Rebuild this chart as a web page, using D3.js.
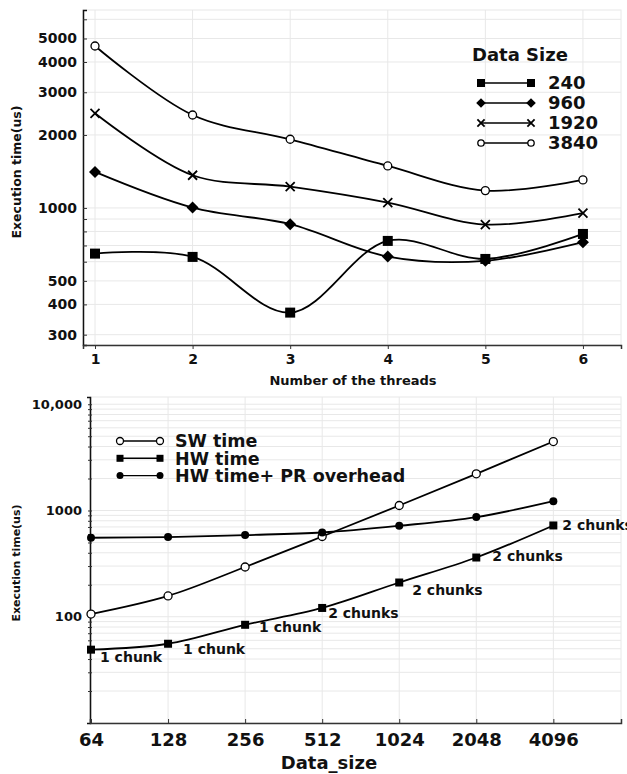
<!DOCTYPE html>
<html><head><meta charset="utf-8">
<script src="https://cdn.jsdelivr.net/npm/d3@7"></script>
<style>
body{margin:0;background:#fff}
svg text{font-family:"DejaVu Sans",Verdana,sans-serif;font-weight:bold;fill:#111}
</style>
</head><body><svg id="c" width="627" height="774"></svg>
<script>
// ---------- Top chart data ----------
const threads = [1, 2, 3, 4, 5, 6];
const sizeSeries = ["240", "960", "1920", "3840"];
const time240 = [648, 628, 370, 731, 616, 781];
const time960 = [1408, 1003, 857, 630, 605, 722];
const time1920 = [2457, 1364, 1224, 1052, 854, 951];
const time3840 = [4656, 2418, 1920, 1490, 1179, 1305];
const topYTicks = [300, 400, 500, 1000, 2000, 3000, 4000, 5000];
const topYMinor = [600, 700, 800, 900, 6000];

// ---------- Bottom chart data ----------
const dataSizes = [64, 128, 256, 512, 1024, 2048, 4096];
const bottomSeries = ["SW time", "HW time", "HW time+ PR overhead"];
const swTime = [106, 157, 294, 569, 1114, 2214, 4457];
const hwTime = [49, 55.7, 84, 121, 210, 361, 723];
const hwPrTime = [554, 562, 587, 621, 718, 867, 1225];
const chunkLabels = ["1 chunk", "1 chunk", "1 chunk", "2 chunks", "2 chunks", "2 chunks", "2 chunks"];
const bottomYTicks = [100, 1000, 10000];

const svg = d3.select("#c");
const GRID = "#e8e8e8";

function drawMarker(g, type, x, y, s) {
  if (type === "square") {
    g.append("rect").attr("x", x - s / 2).attr("y", y - s / 2).attr("width", s).attr("height", s).attr("fill", "#000");
  } else if (type === "diamond") {
    g.append("path").attr("d", `M${x},${y - s * 0.6}L${x + s * 0.6},${y}L${x},${y + s * 0.6}L${x - s * 0.6},${y}Z`).attr("fill", "#000");
  } else if (type === "cross") {
    const h = s / 2;
    g.append("path").attr("d", `M${x - h},${y - h}L${x + h},${y + h}M${x - h},${y + h}L${x + h},${y - h}`)
      .attr("stroke", "#000").attr("stroke-width", 1.8).attr("fill", "none");
  } else if (type === "circle") {
    g.append("circle").attr("cx", x).attr("cy", y).attr("r", s / 2).attr("fill", "#fff").attr("stroke", "#000").attr("stroke-width", 1.3);
  } else if (type === "dot") {
    g.append("circle").attr("cx", x).attr("cy", y).attr("r", s / 2).attr("fill", "#000");
  }
}

// ================= TOP CHART =================
(function () {
  const L = 83, R = 621, T = 10, B = 345;
  const x = d3.scaleLinear().domain([0.877, 6.39]).range([L, R]);
  const y = d3.scaleLog().domain([272, 6554]).range([B, T]);
  const g = svg.append("g");

  g.append("rect").attr("x", L).attr("y", T).attr("width", R - L).attr("height", B - T).attr("fill", "none").attr("stroke", GRID);
  g.selectAll(".hg").data(topYTicks.concat(topYMinor)).enter().append("line")
    .attr("x1", L).attr("x2", R).attr("y1", d => y(d)).attr("y2", d => y(d)).attr("stroke", GRID);
  g.selectAll(".vg").data(threads).enter().append("line")
    .attr("x1", d => x(d)).attr("x2", d => x(d)).attr("y1", T).attr("y2", B).attr("stroke", GRID);

  const ya = g.append("g").attr("transform", `translate(${L},0)`)
    .call(d3.axisLeft(y).tickValues(topYTicks.concat(topYMinor)).tickSize(-4).tickPadding(6)
      .tickFormat(d => topYTicks.includes(d) ? d3.format("d")(d) : ""));
  ya.select(".domain").attr("stroke", "#111").attr("stroke-width", 1.5);
  ya.selectAll(".tick line").attr("stroke", "#333");
  ya.selectAll("text").style("font-size", "14px").attr("fill", "#111");

  const xa = g.append("g").attr("transform", `translate(0,${B})`)
    .call(d3.axisBottom(x).tickValues(threads).tickSize(4).tickPadding(5).tickFormat(d3.format("d")));
  xa.select(".domain").attr("stroke", "#333").attr("stroke-width", 1.5);
  xa.selectAll(".tick line").attr("stroke", "#333");
  xa.selectAll("text").style("font-size", "14px").attr("fill", "#111");

  g.append("text").attr("x", 353).attr("y", 385).attr("text-anchor", "middle").style("font-size", "13px").text("Number of the threads");
  g.append("text").attr("transform", "translate(21,172) rotate(-90)").attr("text-anchor", "middle").style("font-size", "12.5px").text("Execution time(us)");

  const series = [time240, time960, time1920, time3840];
  const markers = ["square", "diamond", "cross", "circle"];
  const msize = [10, 10, 9, 8];
  const line = d3.line().x((d, i) => x(threads[i])).y(d => y(d)).curve(d3.curveCatmullRom);
  series.forEach(s => {
    g.append("path").attr("d", line(s)).attr("fill", "none").attr("stroke", "#000").attr("stroke-width", 1.8);
  });
  series.forEach((s, k) => {
    s.forEach((v, i) => drawMarker(g, markers[k], x(threads[i]), y(v), msize[k]));
  });

  g.append("text").attr("x", 472).attr("y", 61).style("font-size", "18px").text("Data Size");
  sizeSeries.forEach((name, k) => {
    const ly = 83 + k * 20;
    g.append("line").attr("x1", 481).attr("x2", 531).attr("y1", ly).attr("y2", ly).attr("stroke", "#000").attr("stroke-width", 1.4);
    drawMarker(g, markers[k], 481, ly, msize[k] * 0.8);
    drawMarker(g, markers[k], 531, ly, msize[k] * 0.8);
    g.append("text").attr("x", 548).attr("y", ly).attr("dy", "0.36em").style("font-size", "18px").text(name);
  });
})();

// ================= BOTTOM CHART =================
(function () {
  const L = 90, R = 621, T = 397, B = 723;
  const x = d3.scaleLog().base(2).domain([64 * Math.pow(2, -0.013), 4096 * Math.pow(2, 0.878)]).range([L, R]);
  const y = d3.scaleLog().domain([10, 11700]).range([B, T]);
  const g = svg.append("g");

  const allY = [];
  [10, 100, 1000].forEach(dec => { for (let m = 1; m <= 9; m++) allY.push(dec * m); });
  allY.push(10000);
  const gridY = allY.filter(v => v > 10);

  g.append("rect").attr("x", L).attr("y", T).attr("width", R - L).attr("height", B - T).attr("fill", "none").attr("stroke", GRID);
  g.selectAll(".hg").data(gridY).enter().append("line")
    .attr("x1", L).attr("x2", R).attr("y1", d => y(d)).attr("y2", d => y(d)).attr("stroke", GRID);
  g.selectAll(".vg").data(dataSizes).enter().append("line")
    .attr("x1", d => x(d)).attr("x2", d => x(d)).attr("y1", T).attr("y2", B).attr("stroke", GRID);

  const ya = g.append("g").attr("transform", `translate(${L},0)`)
    .call(d3.axisLeft(y).tickValues(gridY).tickSize(3).tickPadding(5)
      .tickFormat(d => d === 10000 ? "10,000" : (bottomYTicks.includes(d) ? String(d) : "")));
  ya.select(".domain").attr("stroke", "#111").attr("stroke-width", 1.5);
  ya.selectAll(".tick line").attr("stroke", "#333").attr("x2", -2).attr("x1", 2);
  ya.selectAll("text").style("font-size", "13px").attr("fill", "#111");

  const xa = g.append("g").attr("transform", `translate(0,${B})`)
    .call(d3.axisBottom(x).tickValues(dataSizes).tickSize(-4).tickPadding(10).tickFormat(d3.format("d")));
  xa.select(".domain").attr("stroke", "#333").attr("stroke-width", 1.5);
  xa.selectAll(".tick line").attr("stroke", "#333");
  xa.selectAll("text").style("font-size", "18px").attr("fill", "#111");

  g.append("text").attr("x", 329).attr("y", 769).attr("text-anchor", "middle").style("font-size", "18px").text("Data_size");
  g.append("text").attr("transform", "translate(20,563) rotate(-90)").attr("text-anchor", "middle").style("font-size", "11px").text("Execution time(us)");

  const line = d3.line().x((d, i) => x(dataSizes[i])).y(d => y(d)).curve(d3.curveCatmullRom);
  const series = [swTime, hwTime, hwPrTime];
  const markers = ["circle", "square", "dot"];
  const msize = [8, 8, 8];
  series.forEach(s => g.append("path").attr("d", line(s)).attr("fill", "none").attr("stroke", "#000").attr("stroke-width", 1.8));
  series.forEach((s, k) => s.forEach((v, i) => drawMarker(g, markers[k], x(dataSizes[i]), y(v), msize[k])));

  const labelOffsets = [[9, 12], [15, 10], [14, 7], [6, 10], [13, 12], [16, 3], [9, 5]];
  chunkLabels.forEach((t, i) => {
    g.append("text").attr("x", x(dataSizes[i]) + labelOffsets[i][0]).attr("y", y(hwTime[i]) + labelOffsets[i][1])
      .style("font-size", "14px").text(t);
  });

  bottomSeries.forEach((name, k) => {
    const ly = 441 + k * 17.3;
    g.append("line").attr("x1", 120).attr("x2", 160).attr("y1", ly).attr("y2", ly).attr("stroke", "#000").attr("stroke-width", 1.4);
    drawMarker(g, markers[k], 120, ly, 7);
    drawMarker(g, markers[k], 160, ly, 7);
    g.append("text").attr("x", 175).attr("y", ly).attr("dy", "0.36em").style("font-size", "17.5px").text(name);
  });
})();
</script>
</body></html>
